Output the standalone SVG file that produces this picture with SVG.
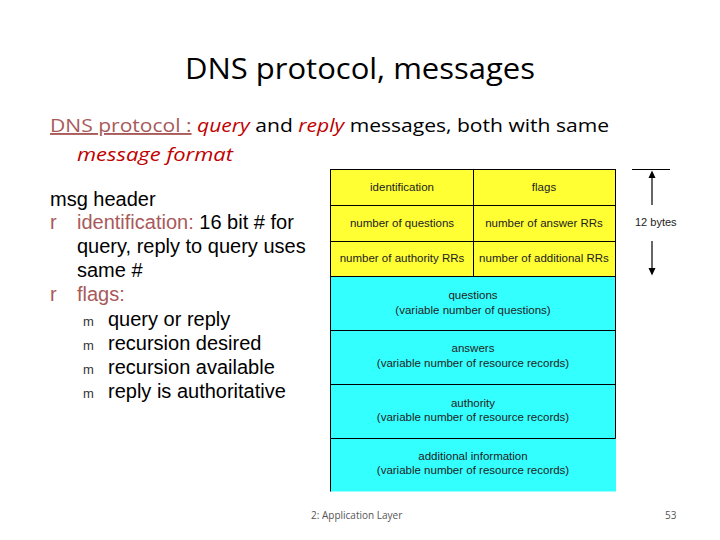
<svg xmlns="http://www.w3.org/2000/svg" width="720" height="540" viewBox="0 0 720 540">
<style>
.t{font-family:"Liberation Sans",Arial,sans-serif;font-size:11.5px;fill:#222;text-anchor:middle}
.c{font-family:"Open Sans","Liberation Sans",sans-serif}
.b{font-family:"Liberation Sans",Arial,sans-serif;font-size:20px;fill:#000}
.br{fill:#a85a5a}
.red{fill:#c00000;font-style:italic}
.cell{stroke:#000;stroke-width:1}
</style>
<rect width="720" height="540" fill="#fff"/>
<text class="c" x="360" y="79" font-size="30" text-anchor="middle" fill="#000" textLength="350" lengthAdjust="spacingAndGlyphs">DNS protocol, messages</text>
<text class="c" x="50" y="132" font-size="19" fill="#000" textLength="559" lengthAdjust="spacingAndGlyphs"><tspan fill="#a85a5a" text-decoration="underline">DNS protocol :</tspan> <tspan class="red">query</tspan> and <tspan class="red">reply</tspan> messages, both with same</text>
<text class="c red" x="77" y="161" font-size="19" textLength="156" lengthAdjust="spacingAndGlyphs">message format</text>
<g id="left-text">
<text class="b" x="50" y="206" font-size="16">msg header</text>
<text class="b br" x="50" y="229">r</text>
<text class="b" x="77" y="229"><tspan class="br">identification:</tspan> 16 bit # for</text>
<text class="b" x="77" y="253">query, reply to query uses</text>
<text class="b" x="77" y="277">same #</text>
<text class="b br" x="50" y="301">r</text>
<text class="b br" x="77" y="301">flags:</text>
<g font-family="Liberation Sans,Arial,sans-serif" font-size="13" fill="#333">
<text x="83" y="326">m</text><text x="83" y="350">m</text><text x="83" y="374">m</text><text x="83" y="398">m</text>
</g>
<text class="b" x="108" y="326">query or reply</text>
<text class="b" x="108" y="350">recursion desired</text>
<text class="b" x="108" y="374">recursion available</text>
<text class="b" x="108" y="398">reply is authoritative</text>
</g>
<g id="header">
<rect class="cell" x="330.5" y="169.5" width="143" height="36" fill="#ffff33"/>
<rect class="cell" x="473.5" y="169.5" width="142" height="36" fill="#ffff33"/>
<rect class="cell" x="330.5" y="205.5" width="143" height="36" fill="#ffff33"/>
<rect class="cell" x="473.5" y="205.5" width="142" height="36" fill="#ffff33"/>
<rect class="cell" x="330.5" y="241.5" width="143" height="35" fill="#ffff33"/>
<rect class="cell" x="473.5" y="241.5" width="142" height="35" fill="#ffff33"/>
<text class="t" x="402" y="191">identification</text>
<text class="t" x="544" y="191">flags</text>
<text class="t" x="402" y="227">number of questions</text>
<text class="t" x="544" y="227">number of answer RRs</text>
<text class="t" x="402" y="262">number of authority RRs</text>
<text class="t" x="544" y="262">number of additional RRs</text>
</g>
<g id="questions">
<rect class="cell" x="330.5" y="276.5" width="285" height="54" fill="#33ffff"/>
<text class="t" x="473" y="299">questions</text>
<text class="t" x="473" y="314">(variable number of questions)</text>
</g>
<g id="answers">
<rect class="cell" x="330.5" y="330.5" width="285" height="54" fill="#33ffff"/>
<text class="t" x="473" y="352">answers</text>
<text class="t" x="473" y="367">(variable number of resource records)</text>
</g>
<g id="authority">
<rect class="cell" x="330.5" y="384.5" width="285" height="54" fill="#33ffff"/>
<text class="t" x="473" y="407">authority</text>
<text class="t" x="473" y="421">(variable number of resource records)</text>
</g>
<g id="additional">
<rect x="330" y="438.5" width="286" height="53" fill="#33ffff"/>
<path d="M330.5,438.5 H615.5 M330.5,438.5 V491.5" stroke="#000" fill="none"/>
<text class="t" x="473" y="460">additional information</text>
<text class="t" x="473" y="474">(variable number of resource records)</text>
</g>
<g id="connectors">
<g stroke="#000" stroke-width="1.2" fill="none">
<line x1="632" y1="169.5" x2="670" y2="169.5"/>
<line x1="652" y1="205" x2="652" y2="176"/>
<line x1="652" y1="241" x2="652" y2="270"/>
</g>
<path d="M648.5,178 L652,170.5 L655.5,178 Z M648.5,268 L652,275.5 L655.5,268 Z" fill="#000"/>
</g>
<text x="635" y="226" font-family="Liberation Sans,Arial,sans-serif" font-size="11" fill="#222">12 bytes</text>
<text x="311" y="519" font-family="Open Sans,Liberation Sans,sans-serif" font-size="10" fill="#555">2: Application Layer</text>
<text x="665" y="519" font-family="Open Sans,Liberation Sans,sans-serif" font-size="10" fill="#555">53</text>
</svg>
